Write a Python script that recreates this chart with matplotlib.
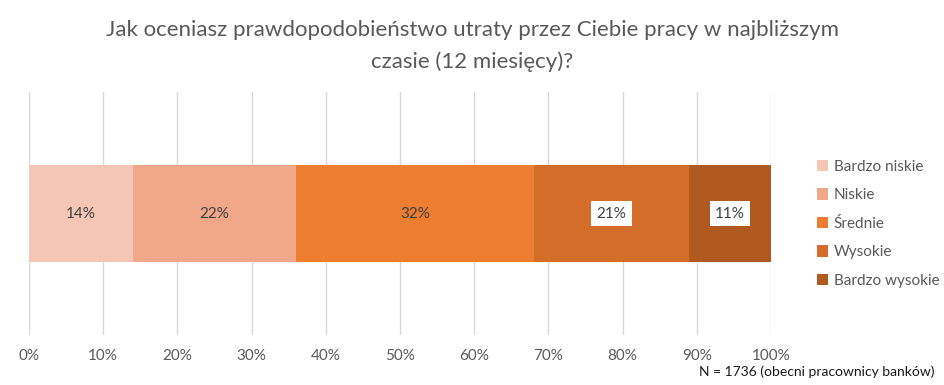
import matplotlib.pyplot as plt
from matplotlib.patches import Patch

plt.rcParams['font.family'] = ['Lato', 'DejaVu Sans']

categories = ["Bardzo niskie", "Niskie", "Średnie", "Wysokie", "Bardzo wysokie"]
values = [14, 22, 32, 21, 11]
colors = ["#F5C6B6", "#F0A78A", "#ED7D31", "#D46D2A", "#B05A20"]
boxed = [False, False, False, True, True]
ticks = list(range(0, 101, 10))

fig = plt.figure(figsize=(9.45, 3.85), dpi=100)
ax = fig.add_axes([29 / 945, 1 - 335 / 385, 742 / 945, 243 / 385])

left = 0
for name, val, col, box in zip(categories, values, colors, boxed):
    ax.barh(0, val, left=left, height=1.0, color=col, edgecolor="none", zorder=2)
    kw = dict(ha="center", va="center", fontsize=11, color="#404040", zorder=3)
    if box:
        kw["bbox"] = dict(boxstyle="square,pad=0.35", fc="white", ec="none")
    ax.text(left + val / 2, 0, f"{val}%", **kw)
    left += val

ax.set_xlim(0, 100)
ax.set_ylim(-1.25, 1.25)
ax.set_xticks(ticks)
ax.set_xticklabels([f"{t}%" for t in ticks], fontsize=11, color="#595959")
ax.set_yticks([])
ax.grid(axis="x", color="#D9D9D9", linewidth=1, zorder=0)
ax.tick_params(axis="x", length=0, pad=10)
for s in ax.spines.values():
    s.set_visible(False)

handles = [Patch(facecolor=c, edgecolor="none") for c in colors]
leg = fig.legend(handles, categories, loc="upper left", bbox_to_anchor=(803 / 945, 1 - 146 / 385),
                 frameon=False, fontsize=11, handlelength=0.75, handleheight=0.75,
                 labelspacing=0.95, handletextpad=0.35)
for t in leg.get_texts():
    t.set_color("#595959")

fig.text(0.5, 1 - 30 / 385, "Jak oceniasz prawdopodobieństwo utraty przez Ciebie pracy w najbliższym",
         ha="center", va="center", fontsize=16, color="#595959")
fig.text(0.5, 1 - 62 / 385, "czasie (12 miesięcy)?", ha="center", va="center", fontsize=16, color="#595959")
fig.text(1 - 10 / 945, 1 - 372 / 385, "N = 1736 (obecni pracownicy banków)", ha="right", va="center",
         fontsize=10, color="#1a1a1a")

fig.savefig("out.png", dpi=100)
